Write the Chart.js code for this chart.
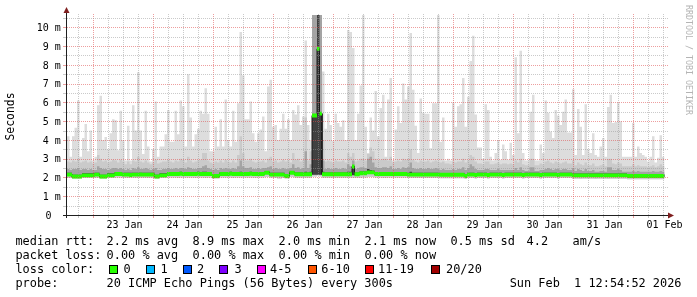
<!DOCTYPE html>
<html><head><meta charset="utf-8">
<script src="https://cdn.jsdelivr.net/npm/chart.js@4/dist/chart.umd.min.js"></script>
<style>html,body{margin:0;padding:0;background:#fff;overflow:hidden}canvas{display:block}</style>
</head><body>
<canvas id="c" width="697" height="297"></canvas>
<script>
// ---------- data (one value per hour, hours relative to 23 Jan 00:00) ----------
const startHour = -10.5;
const stepHours = 1;

const pingMax = [
4.2,3.1,4.2,4.65,6.1,3.1,4.1,4.85,3.4,4.5,
2.9,3.1,5.85,6.35,4.0,4.15,3.5,4.35,5.1,5.05,
3.45,5.55,4.0,2.9,4.75,2.9,5.85,4.5,7.6,4.5,
3.25,5.55,3.65,2.85,3.5,6.05,3.1,3.65,3.65,4.3,
5.6,3.9,3.9,5.55,4.3,6.1,5.8,3.65,7.5,5.2,
3.65,4.3,4.6,5.55,5.4,6.75,5.4,3.4,3.4,4.7,
3.65,5.1,3.65,6.15,4.0,3.65,5.55,3.9,5.95,9.75,
7.45,5.1,5.1,6.05,4.35,3.9,4.35,4.55,5.25,3.4,
6.85,7.2,4.7,4.8,4.0,4.6,5.4,4.6,5.1,4.0,
5.6,5.35,5.85,4.8,5.25,9.3,4.8,4.0,10.66,10.66,
10.66,10.66,7.65,4.6,5.4,4.8,3.95,5.4,4.9,4.7,
5.05,4.0,9.85,9.75,8.9,4.0,5.4,6.9,10.66,4.7,
3.3,5.2,4.5,6.6,4.2,5.7,6.4,3.1,6.15,7.3,
2.9,4.55,5.8,4.9,7.0,6.15,6.85,9.7,6.67,4.75,
3.3,6.2,5.45,5.4,5.4,3.55,5.95,5.95,10.66,3.9,
5.2,2.9,3.0,2.9,6.0,4.7,5.8,5.9,7.3,4.7,
6.3,8.2,9.55,5.35,3.6,3.6,3.0,5.9,5.6,3.1,
2.9,3.3,4.0,2.95,3.75,3.4,2.95,3.85,3.2,8.4,
4.35,8.75,3.3,2.9,2.9,5.5,6.4,2.9,2.9,3.75,
3.3,6.1,5.45,4.45,4.1,5.6,5.3,4.8,5.5,6.15,
4.4,4.4,6.7,3.2,5.65,4.7,3.2,5.9,3.5,3.3,
4.35,3.2,3.1,3.65,4.1,3.1,5.75,6.4,4.9,4.95,
6.0,5.0,3.1,3.1,3.1,3.1,4.9,3.1,3.65,3.3,
3.2,3.1,2.85,3.1,4.2,2.8,3.05,4.25,3.1];

const pingHi2 = [
2.85,2.8,2.9,2.85,3.0,2.8,2.85,2.9,2.8,2.85,
2.75,2.8,3.2,3.0,2.85,2.9,2.8,2.85,2.95,2.9,
2.8,2.95,2.85,2.7,2.85,2.7,2.9,2.85,3.1,2.85,
2.8,2.9,2.8,2.7,2.8,2.95,2.75,2.8,2.85,2.85,
2.95,2.85,2.8,2.9,2.85,3.0,2.95,2.8,3.1,2.9,
2.8,2.85,2.9,2.95,3.3,3.3,2.9,2.8,2.75,2.85,
2.8,2.9,2.8,2.95,2.85,2.8,2.9,2.8,3.2,4.2,
3.3,2.9,2.9,3.0,2.85,2.8,2.85,2.85,2.9,2.8,
3.0,3.1,2.85,2.9,2.8,2.85,2.95,2.85,2.9,2.8,
3.3,2.95,3.0,2.85,2.9,5.2,2.9,3.4,10.66,10.66,
10.66,10.66,4.0,2.85,2.9,2.85,2.8,2.9,2.85,2.85,
2.9,2.8,3.3,3.1,3.3,2.85,2.9,3.0,3.0,2.9,
3.25,3.6,3.4,3.0,2.9,2.95,3.0,3.0,2.9,3.1,
2.8,2.85,2.9,2.85,3.0,2.95,3.0,3.5,2.95,2.85,
2.8,2.9,2.85,2.85,2.9,2.8,2.85,2.9,2.85,2.8,
2.85,2.75,2.75,2.7,2.85,2.8,2.85,2.85,3.0,2.8,
2.9,3.2,3.1,2.85,2.75,2.75,2.7,2.85,2.85,2.7,
2.7,2.75,2.8,2.7,2.75,2.75,2.7,2.75,2.7,2.9,
2.8,3.0,2.7,2.65,2.65,3.0,3.0,2.65,2.65,2.75,
2.7,2.85,2.9,2.8,2.75,2.85,2.8,2.75,2.8,2.85,
2.75,2.75,2.9,2.65,2.8,2.7,2.65,2.8,2.65,2.65,
2.75,2.6,2.6,2.65,2.7,2.6,3.0,3.0,2.75,2.7,
2.8,2.75,2.6,2.6,2.6,2.6,2.7,2.6,2.65,2.6,
2.6,2.6,2.55,2.6,2.65,2.55,2.6,2.7,2.6];

const pingHi3 = [
2.45,2.4,2.45,2.45,2.5,2.4,2.45,2.45,2.4,2.45,
2.4,2.4,2.6,2.5,2.45,2.45,2.4,2.45,2.5,2.5,
2.45,2.5,2.45,2.4,2.45,2.4,2.5,2.45,2.55,2.45,
2.45,2.5,2.45,2.4,2.45,2.5,2.4,2.4,2.45,2.45,
2.5,2.45,2.45,2.5,2.45,2.5,2.5,2.45,2.55,2.5,
2.45,2.45,2.5,2.5,2.6,2.65,2.5,2.45,2.4,2.45,
2.4,2.5,2.45,2.5,2.45,2.45,2.5,2.45,2.6,2.9,
2.6,2.5,2.5,2.55,2.45,2.45,2.5,2.45,2.5,2.5,
2.55,2.6,2.45,2.5,2.45,2.45,2.5,2.45,2.45,2.5,
2.7,2.5,2.55,2.45,2.5,3.4,2.5,2.7,10.66,10.66,
10.66,10.66,2.9,2.45,2.5,2.45,2.45,2.5,2.45,2.45,
2.5,2.45,2.7,2.6,2.9,2.45,2.5,2.55,2.55,2.5,
3.0,3.1,2.8,2.55,2.5,2.5,2.55,2.55,2.5,2.6,
2.45,2.45,2.5,2.45,2.55,2.5,2.55,2.8,2.5,2.45,
2.45,2.5,2.45,2.45,2.5,2.45,2.45,2.5,2.45,2.4,
2.45,2.4,2.4,2.4,2.45,2.4,2.45,2.45,2.55,2.4,
2.5,2.7,2.6,2.45,2.4,2.4,2.4,2.45,2.45,2.4,
2.4,2.4,2.45,2.4,2.4,2.4,2.4,2.4,2.4,2.5,
2.4,2.55,2.4,2.35,2.35,2.55,2.55,2.35,2.35,2.4,
2.4,2.45,2.5,2.45,2.4,2.45,2.45,2.4,2.45,2.45,
2.4,2.4,2.5,2.35,2.45,2.4,2.35,2.45,2.35,2.35,
2.4,2.3,2.3,2.35,2.35,2.3,2.55,2.55,2.4,2.4,
2.45,2.4,2.3,2.3,2.3,2.3,2.35,2.3,2.35,2.3,
2.3,2.3,2.3,2.3,2.35,2.3,2.3,2.35,2.3];

const pingCore = [
2.25,2.25,2.15,2.15,2.15,2.15,2.22,2.22,2.22,2.22,
2.22,2.25,2.25,2.15,2.15,2.15,2.22,2.22,2.22,2.28,
2.28,2.28,2.25,2.25,2.25,2.25,2.25,2.25,2.25,2.25,
2.25,2.25,2.25,2.25,2.25,2.15,2.15,2.22,2.22,2.22,
2.28,2.28,2.28,2.28,2.28,2.3,2.28,2.28,2.28,2.28,
2.28,2.28,2.3,2.28,2.3,2.3,2.28,2.28,2.18,2.18,
2.18,2.28,2.28,2.28,2.28,2.3,2.28,2.28,2.28,2.3,
2.28,2.28,2.28,2.3,2.28,2.28,2.28,2.28,2.28,2.33,
2.33,2.25,2.25,2.25,2.25,2.25,2.25,2.18,2.18,2.33,
2.33,2.27,2.27,2.27,2.27,2.3,2.27,2.3,5.3,5.3,
10.66,5.4,2.3,2.27,2.27,2.27,2.27,2.27,2.27,2.27,
2.27,2.27,2.3,2.3,2.62,2.27,2.27,2.32,2.32,2.32,
2.45,2.4,2.37,2.28,2.28,2.28,2.28,2.28,2.28,2.28,
2.28,2.28,2.28,2.28,2.28,2.28,2.25,2.3,2.25,2.25,
2.25,2.25,2.25,2.25,2.25,2.25,2.25,2.25,2.25,2.24,
2.24,2.24,2.24,2.24,2.24,2.24,2.24,2.24,2.24,2.18,
2.25,2.25,2.25,2.23,2.25,2.25,2.25,2.25,2.23,2.25,
2.25,2.25,2.25,2.25,2.23,2.25,2.25,2.25,2.25,2.25,
2.25,2.25,2.23,2.25,2.25,2.25,2.25,2.25,2.25,2.23,
2.25,2.25,2.25,2.25,2.25,2.25,2.23,2.25,2.25,2.25,
2.25,2.25,2.21,2.21,2.21,2.21,2.21,2.21,2.21,2.21,
2.21,2.21,2.21,2.21,2.21,2.21,2.21,2.21,2.21,2.21,
2.21,2.21,2.21,2.21,2.18,2.18,2.18,2.18,2.18,2.18,
2.18,2.18,2.18,2.18,2.18,2.18,2.18,2.18,2.18];

const pingLow = [
2.09,2.09,1.99,1.99,1.99,1.99,2.05,2.05,2.05,2.05,
2.05,2.09,2.09,1.99,1.99,1.99,2.05,2.05,2.05,2.12,
2.12,2.12,2.09,2.09,2.09,2.07,2.09,2.09,2.09,2.1,
2.09,2.09,2.09,2.09,2.09,1.99,1.99,2.05,2.05,2.05,
2.12,2.12,2.12,2.12,2.12,2.14,2.12,2.12,2.12,2.12,
2.12,2.12,2.14,2.12,2.12,2.12,2.12,2.12,2.02,2.02,
2.02,2.12,2.12,2.12,2.12,2.14,2.12,2.12,2.12,2.12,
2.12,2.12,2.12,2.14,2.12,2.12,2.12,2.12,2.12,2.19,
2.19,2.09,2.09,2.09,2.09,2.09,2.09,2.02,2.02,2.19,
2.19,2.11,2.11,2.11,2.11,2.11,2.11,2.11,2.15,2.15,
2.15,2.15,2.11,2.11,2.11,2.11,2.11,2.11,2.11,2.11,
2.11,2.11,2.11,2.11,2.12,2.11,2.11,2.16,2.16,2.16,
2.21,2.21,2.21,2.12,2.12,2.12,2.12,2.12,2.12,2.12,
2.12,2.12,2.12,2.12,2.12,2.12,2.09,2.09,2.09,2.09,
2.09,2.09,2.09,2.09,2.09,2.09,2.09,2.09,2.09,2.08,
2.08,2.08,2.08,2.08,2.08,2.08,2.08,2.08,2.08,2.02,
2.09,2.09,2.09,2.07,2.09,2.09,2.09,2.09,2.07,2.09,
2.09,2.09,2.09,2.09,2.07,2.09,2.09,2.09,2.09,2.09,
2.09,2.09,2.07,2.09,2.09,2.09,2.09,2.09,2.09,2.07,
2.09,2.09,2.09,2.09,2.09,2.09,2.07,2.09,2.09,2.09,
2.09,2.09,2.05,2.05,2.05,2.05,2.05,2.05,2.05,2.05,
2.05,2.05,2.05,2.05,2.05,2.05,2.05,2.05,2.05,2.05,
2.05,2.05,2.05,2.05,2.02,2.02,2.02,2.02,2.02,2.02,
2.02,2.02,2.02,2.02,2.02,2.02,2.02,2.02,2.02];

const pingMin = [
1.98,1.97,1.95,1.95,1.95,1.96,1.97,1.98,1.97,1.98,
1.98,1.98,1.97,1.94,1.95,1.95,1.98,1.97,1.97,2.0,
2.0,2.0,1.98,1.98,1.97,1.98,1.98,1.97,1.98,1.98,
1.98,1.98,1.97,1.98,1.97,1.94,1.95,1.97,1.97,1.98,
2.0,2.0,2.0,2.0,1.98,2.0,2.0,2.0,2.0,2.0,
2.0,1.98,2.0,2.0,2.0,1.98,2.0,2.0,1.93,1.94,
1.95,2.0,2.0,2.0,2.0,2.0,1.98,2.0,2.0,2.0,
2.0,2.0,2.0,2.0,2.0,1.98,2.0,2.0,2.0,2.02,
2.02,1.98,1.98,1.97,1.95,1.95,1.97,1.94,1.94,2.02,
2.02,1.99,1.99,1.99,1.99,1.99,1.99,1.99,2.05,2.05,
2.1,2.05,1.99,1.99,1.99,1.99,1.97,1.99,1.99,1.99,
1.99,1.99,1.99,1.99,1.99,1.99,1.99,1.99,2.0,2.0,
2.03,2.03,2.03,2.0,2.0,2.0,1.99,1.99,2.0,2.0,
2.0,2.0,2.0,2.0,2.0,2.0,1.97,1.97,1.97,1.97,
1.97,1.97,1.97,1.97,1.97,1.97,1.97,1.97,1.97,1.96,
1.96,1.96,1.96,1.96,1.96,1.96,1.96,1.96,1.96,1.92,
1.97,1.97,1.97,1.95,1.97,1.97,1.97,1.97,1.95,1.97,
1.97,1.97,1.97,1.97,1.95,1.97,1.97,1.97,1.97,1.97,
1.97,1.97,1.95,1.97,1.97,1.97,1.97,1.97,1.97,1.95,
1.97,1.97,1.97,1.97,1.97,1.97,1.95,1.97,1.97,1.97,
1.97,1.97,1.93,1.93,1.93,1.92,1.93,1.93,1.93,1.93,
1.93,1.92,1.93,1.93,1.93,1.93,1.92,1.93,1.93,1.93,
1.93,1.93,1.93,1.93,1.9,1.9,1.91,1.9,1.9,1.9,
1.9,1.9,1.91,1.9,1.9,1.9,1.91,1.9,1.9];

const medianRtt = [
2.15,2.15,2.05,2.05,2.05,2.05,2.11,2.11,2.11,2.11,
2.11,2.15,2.15,2.05,2.05,2.05,2.11,2.11,2.11,2.18,
2.18,2.18,2.15,2.15,2.15,2.13,2.15,2.15,2.15,2.16,
2.15,2.15,2.15,2.15,2.15,2.05,2.05,2.11,2.11,2.11,
2.18,2.18,2.18,2.18,2.18,2.2,2.18,2.18,2.18,2.18,
2.18,2.18,2.2,2.18,2.18,2.18,2.18,2.18,2.08,2.08,
2.08,2.18,2.18,2.18,2.18,2.2,2.18,2.18,2.18,2.18,
2.18,2.18,2.18,2.2,2.18,2.18,2.18,2.18,2.18,2.25,
2.25,2.15,2.15,2.15,2.15,2.15,2.15,2.08,2.08,2.25,
2.25,2.17,2.17,2.17,2.17,2.17,2.17,2.17,5.3,5.3,
8.85,5.4,2.17,2.17,2.17,2.17,2.17,2.17,2.17,2.17,
2.17,2.17,2.17,2.17,2.58,2.17,2.17,2.22,2.22,2.22,
2.27,2.27,2.27,2.18,2.18,2.18,2.18,2.18,2.18,2.18,
2.18,2.18,2.18,2.18,2.18,2.18,2.15,2.15,2.15,2.15,
2.15,2.15,2.15,2.15,2.15,2.15,2.15,2.15,2.15,2.14,
2.14,2.14,2.14,2.14,2.14,2.14,2.14,2.14,2.14,2.08,
2.15,2.15,2.15,2.13,2.15,2.15,2.15,2.15,2.13,2.15,
2.15,2.15,2.15,2.15,2.13,2.15,2.15,2.15,2.15,2.15,
2.15,2.15,2.13,2.15,2.15,2.15,2.15,2.15,2.15,2.13,
2.15,2.15,2.15,2.15,2.15,2.15,2.13,2.15,2.15,2.15,
2.15,2.15,2.11,2.11,2.11,2.11,2.11,2.11,2.11,2.11,
2.11,2.11,2.11,2.11,2.11,2.11,2.11,2.11,2.11,2.11,
2.11,2.11,2.11,2.11,2.08,2.08,2.08,2.08,2.08,2.08,
2.08,2.08,2.08,2.08,2.08,2.08,2.08,2.08,2.08];

const yTickValues = [0,1,2,3,4,5,6,7,8,9,10];
const yTickLabels = ['0','1 m','2 m','3 m','4 m','5 m','6 m','7 m','8 m','9 m','10 m'];
const dayLabelHours = [12,36,60,84,108,132,156,180,204,228];
const dayLabels = ['23 Jan','24 Jan','25 Jan','26 Jan','27 Jan','28 Jan','29 Jan','30 Jan','31 Jan','01 Feb'];
const yAxisTitle = 'Seconds';
const watermark = 'RRDTOOL / TOBI OETIKER';
const rttRowLabel = 'median rtt:';
const rttStats = ['2.2 ms avg','8.9 ms max','2.0 ms min','2.1 ms now','0.5 ms sd','4.2','am/s'];
const lossRowLabel = 'packet loss:';
const lossStats = ['0.00 % avg','0.00 % max','0.00 % min','0.00 % now'];
const colorRowLabel = 'loss color:';
const lossLabels = ['0','1','2','3','4-5','6-10','11-19','20/20'];
const lossColors = ['#26ff00','#00b8ff','#0059ff','#7e00ff','#ff00ff','#ff5500','#ff0000','#a10000'];
const probeRowLabel = 'probe:';
const probeText = '20 ICMP Echo Pings (56 Bytes) every 300s';
const dateText = 'Sun Feb  1 12:54:52 2026';

// ---------- layout / style ----------
const LEG_FONT = '11.9px "DejaVu Sans Mono"';
const AX_FONT = '10px "DejaVu Sans Mono"';
const rttX = [106.6,192.6,278.6,364.6,450.4,526.6,572.6];
const lossX = [106.6,192.6,278.6,364.6];
const swatchX = [109,146,183,219,257,308,365,431];
const swatchTextX = [123.4,160.4,197,234.4,270,321.3,378,446];
const rowY = [245,258.8,273,287];
const greenHalf = 0.105;

function steps(vals) {
  const pts = [];
  vals.forEach((v, i) => {
    pts.push({x: startHour + i * stepHours, y: v});
    pts.push({x: startHour + (i + 1) * stepHours, y: v});
  });
  return pts;
}

const decor = {
  id: 'decor',
  beforeDraw(chart) {
    const c = chart.ctx;
    c.save(); c.fillStyle = '#ffffff'; c.fillRect(0, 0, chart.width, chart.height); c.restore();
  },
  afterDatasetsDraw(chart) {
    const c = chart.ctx, xs = chart.scales.x, ys = chart.scales.y, a = chart.chartArea;
    const minorCol = 'rgba(150,150,150,0.5)', majorCol = 'rgba(222,79,79,0.55)';
    c.save();
    c.lineWidth = 1;
    for (let h = Math.ceil(xs.min / 6) * 6; h <= xs.max; h += 6) {
      const x = Math.round(xs.getPixelForValue(h)) + 0.5;
      const major = (h % 24 === 0);
      c.strokeStyle = major ? majorCol : minorCol;
      c.setLineDash([1, 1]);
      c.beginPath(); c.moveTo(x, a.bottom); c.lineTo(x, a.top - 2); c.stroke();
      c.setLineDash([]);
      c.beginPath(); c.moveTo(x, a.bottom + 1); c.lineTo(x, a.bottom + 3); c.stroke();
    }
    for (let k = 1; k <= Math.floor(ys.max * 2); k++) {
      const v = k / 2;
      const y = Math.round(ys.getPixelForValue(v)) + 0.5;
      const major = (k % 2 === 0);
      c.strokeStyle = major ? majorCol : minorCol;
      c.setLineDash([1, 1]);
      c.beginPath(); c.moveTo(a.left, y); c.lineTo(a.right + 1, y); c.stroke();
      c.setLineDash([]);
      c.beginPath(); c.moveTo(a.left - 4, y); c.lineTo(a.left - 1, y); c.stroke();
    }
    c.restore();
  },
  afterDraw(chart) {
    const c = chart.ctx, xs = chart.scales.x, ys = chart.scales.y, a = chart.chartArea;
    c.save();
    // axes
    const axY = Math.round(ys.getPixelForValue(0)) + 0.5;
    const axX = a.left - 0.5;
    c.strokeStyle = '#1f1f1f'; c.lineWidth = 1; c.setLineDash([]);
    c.beginPath(); c.moveTo(a.left - 4, axY); c.lineTo(a.right + 2, axY); c.stroke();
    c.beginPath(); c.moveTo(axX, a.bottom + 3); c.lineTo(axX, a.top - 3); c.stroke();
    c.fillStyle = '#7f1f1f';
    c.beginPath(); c.moveTo(a.right + 1, axY - 3); c.lineTo(a.right + 7, axY); c.lineTo(a.right + 1, axY + 3); c.closePath(); c.fill();
    c.beginPath(); c.moveTo(axX - 3, a.top - 2); c.lineTo(axX, a.top - 8); c.lineTo(axX + 3, a.top - 2); c.closePath(); c.fill();

    // y tick labels
    c.fillStyle = '#000'; c.font = AX_FONT; c.textBaseline = 'alphabetic';
    c.textAlign = 'right';
    yTickValues.forEach((v, i) => {
      const y = ys.getPixelForValue(v) + 3.7;
      const lbl = yTickLabels[i];
      c.fillText(lbl, lbl.indexOf(' ') < 0 ? 51.5 : 60.8, y);
    });
    // x tick labels
    c.textAlign = 'center';
    dayLabelHours.forEach((h, i) => {
      c.fillText(dayLabels[i], xs.getPixelForValue(h) + 1.2, 228.3);
    });

    // y axis title
    c.save();
    c.font = '11.4px "DejaVu Sans Mono"';
    c.translate(10.6, (a.top + a.bottom) / 2);
    c.rotate(-Math.PI / 2);
    c.textAlign = 'center'; c.textBaseline = 'middle';
    c.fillText(yAxisTitle, -1.5, 0);
    c.restore();

    // watermark
    c.save();
    c.font = '8.3px "DejaVu Sans Mono"';
    c.fillStyle = '#b4b4b4';
    c.translate(688.5, 5);
    c.rotate(Math.PI / 2);
    c.textAlign = 'left'; c.textBaseline = 'middle';
    c.fillText(watermark, 0, 0);
    c.restore();

    // legend
    c.font = LEG_FONT; c.textAlign = 'left'; c.textBaseline = 'alphabetic'; c.fillStyle = '#000';
    c.fillText(rttRowLabel, 15.4, rowY[0]);
    rttStats.forEach((s, i) => c.fillText(s, rttX[i], rowY[0]));
    c.fillText(lossRowLabel, 15.4, rowY[1]);
    lossStats.forEach((s, i) => c.fillText(s, lossX[i], rowY[1]));
    c.fillText(colorRowLabel, 15.4, rowY[2]);
    lossLabels.forEach((s, i) => {
      c.fillStyle = lossColors[i];
      c.fillRect(swatchX[i], 265, 9, 9);
      c.strokeStyle = '#000'; c.lineWidth = 1;
      c.strokeRect(swatchX[i] + 0.5, 265.5, 8, 8);
      c.fillStyle = '#000';
      c.fillText(s, swatchTextX[i], rowY[2]);
    });
    c.fillText(probeRowLabel, 15.4, rowY[3]);
    c.fillText(probeText, 106.6, rowY[3]);
    c.textAlign = 'right';
    c.fillText(dateText, 681.5, rowY[3]);
    c.restore();
  }
};

const common = {pointRadius: 0, pointHoverRadius: 0, borderWidth: 0, borderColor: 'rgba(0,0,0,0)', tension: 0};
new Chart(document.getElementById('c'), {
  type: 'line',
  data: {
    datasets: [
      {...common, label: 'median (loss 0)', data: steps(medianRtt.map(v => v + greenHalf)), fill: 1, backgroundColor: lossColors[0], order: 0},
      {...common, label: 'median band low', data: steps(medianRtt.map(v => v - greenHalf)), fill: false, order: 1},
      {...common, label: 'median', data: steps(medianRtt), fill: false, borderWidth: 1, borderColor: '#1a1a1a', order: 2},
      {...common, label: 'core', data: steps(pingCore), fill: 7, backgroundColor: '#404040', order: 3},
      {...common, label: 'inner', data: steps(pingHi3), fill: 7, backgroundColor: '#a4a4a4', order: 4},
      {...common, label: 'middle', data: steps(pingHi2), fill: 8, backgroundColor: '#cacaca', order: 5},
      {...common, label: 'max', data: steps(pingMax), fill: 8, backgroundColor: '#dddddd', order: 6},
      {...common, label: 'low', data: steps(pingLow), fill: false, order: 7},
      {...common, label: 'min', data: steps(pingMin), fill: false, order: 8}
    ]
  },
  options: {
    responsive: false,
    animation: false,
    devicePixelRatio: 1,
    events: [],
    layout: {padding: {left: 67, right: 30, top: 15, bottom: 82}},
    plugins: {legend: {display: false}, tooltip: {enabled: false}},
    scales: {
      x: {type: 'linear', min: startHour, max: startHour + 240, display: false},
      y: {type: 'linear', min: 0, max: 10.655, display: false}
    }
  },
  plugins: [decor]
});
</script>
</body></html>
